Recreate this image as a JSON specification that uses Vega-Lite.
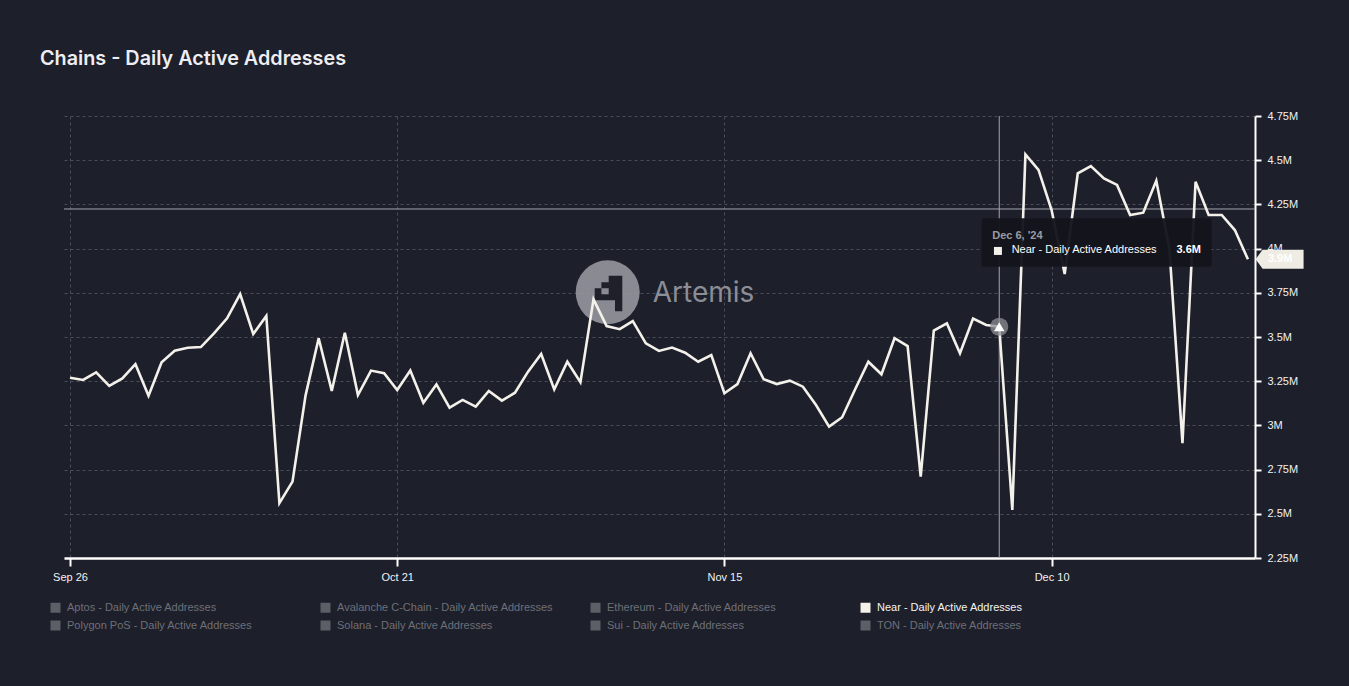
{
  "$schema": "https://vega.github.io/schema/vega-lite/v6.json",
  "width": 1191,
  "height": 442,
  "autosize": {"type": "none"},
  "padding": {"left": 64, "top": 116, "right": 94, "bottom": 128},
  "background": "#1d1f2a",
  "title": {"text": "Chains - Daily Active Addresses", "anchor": "start", "frame": "group", "dx": -24, "offset": 25, "baseline": "alphabetic", "font": "Inter", "fontSize": 19.8, "fontWeight": 600, "color": "#eeeef2"},
  "config": {
    "view": {"stroke": null},
    "axis": {"domainColor": "#ffffff", "tickColor": "#ffffff", "labelColor": "#f2f2f2", "labelFont": "Liberation Sans", "labelFontSize": 11, "gridColor": "#4a4c57", "gridDash": [3, 3], "gridWidth": 1}
  },
  "datasets": {
    "series": [
      {"date": "2024-09-26", "value": 3270000, "series": "Near - Daily Active Addresses"},
      {"date": "2024-09-27", "value": 3257000, "series": "Near - Daily Active Addresses"},
      {"date": "2024-09-28", "value": 3300000, "series": "Near - Daily Active Addresses"},
      {"date": "2024-09-29", "value": 3223000, "series": "Near - Daily Active Addresses"},
      {"date": "2024-09-30", "value": 3266000, "series": "Near - Daily Active Addresses"},
      {"date": "2024-10-01", "value": 3346000, "series": "Near - Daily Active Addresses"},
      {"date": "2024-10-02", "value": 3168000, "series": "Near - Daily Active Addresses"},
      {"date": "2024-10-03", "value": 3357000, "series": "Near - Daily Active Addresses"},
      {"date": "2024-10-04", "value": 3422000, "series": "Near - Daily Active Addresses"},
      {"date": "2024-10-05", "value": 3439000, "series": "Near - Daily Active Addresses"},
      {"date": "2024-10-06", "value": 3443000, "series": "Near - Daily Active Addresses"},
      {"date": "2024-10-07", "value": 3520000, "series": "Near - Daily Active Addresses"},
      {"date": "2024-10-08", "value": 3606000, "series": "Near - Daily Active Addresses"},
      {"date": "2024-10-09", "value": 3743000, "series": "Near - Daily Active Addresses"},
      {"date": "2024-10-10", "value": 3517000, "series": "Near - Daily Active Addresses"},
      {"date": "2024-10-11", "value": 3619000, "series": "Near - Daily Active Addresses"},
      {"date": "2024-10-12", "value": 2560000, "series": "Near - Daily Active Addresses"},
      {"date": "2024-10-13", "value": 2682000, "series": "Near - Daily Active Addresses"},
      {"date": "2024-10-14", "value": 3170000, "series": "Near - Daily Active Addresses"},
      {"date": "2024-10-15", "value": 3493000, "series": "Near - Daily Active Addresses"},
      {"date": "2024-10-16", "value": 3195000, "series": "Near - Daily Active Addresses"},
      {"date": "2024-10-17", "value": 3524000, "series": "Near - Daily Active Addresses"},
      {"date": "2024-10-18", "value": 3172000, "series": "Near - Daily Active Addresses"},
      {"date": "2024-10-19", "value": 3310000, "series": "Near - Daily Active Addresses"},
      {"date": "2024-10-20", "value": 3295000, "series": "Near - Daily Active Addresses"},
      {"date": "2024-10-21", "value": 3200000, "series": "Near - Daily Active Addresses"},
      {"date": "2024-10-22", "value": 3310000, "series": "Near - Daily Active Addresses"},
      {"date": "2024-10-23", "value": 3128000, "series": "Near - Daily Active Addresses"},
      {"date": "2024-10-24", "value": 3232000, "series": "Near - Daily Active Addresses"},
      {"date": "2024-10-25", "value": 3100000, "series": "Near - Daily Active Addresses"},
      {"date": "2024-10-26", "value": 3144000, "series": "Near - Daily Active Addresses"},
      {"date": "2024-10-27", "value": 3106000, "series": "Near - Daily Active Addresses"},
      {"date": "2024-10-28", "value": 3195000, "series": "Near - Daily Active Addresses"},
      {"date": "2024-10-29", "value": 3140000, "series": "Near - Daily Active Addresses"},
      {"date": "2024-10-30", "value": 3185000, "series": "Near - Daily Active Addresses"},
      {"date": "2024-10-31", "value": 3304000, "series": "Near - Daily Active Addresses"},
      {"date": "2024-11-01", "value": 3404000, "series": "Near - Daily Active Addresses"},
      {"date": "2024-11-02", "value": 3204000, "series": "Near - Daily Active Addresses"},
      {"date": "2024-11-03", "value": 3360000, "series": "Near - Daily Active Addresses"},
      {"date": "2024-11-04", "value": 3244000, "series": "Near - Daily Active Addresses"},
      {"date": "2024-11-05", "value": 3713000, "series": "Near - Daily Active Addresses"},
      {"date": "2024-11-06", "value": 3562000, "series": "Near - Daily Active Addresses"},
      {"date": "2024-11-07", "value": 3544000, "series": "Near - Daily Active Addresses"},
      {"date": "2024-11-08", "value": 3590000, "series": "Near - Daily Active Addresses"},
      {"date": "2024-11-09", "value": 3464000, "series": "Near - Daily Active Addresses"},
      {"date": "2024-11-10", "value": 3421000, "series": "Near - Daily Active Addresses"},
      {"date": "2024-11-11", "value": 3440000, "series": "Near - Daily Active Addresses"},
      {"date": "2024-11-12", "value": 3411000, "series": "Near - Daily Active Addresses"},
      {"date": "2024-11-13", "value": 3360000, "series": "Near - Daily Active Addresses"},
      {"date": "2024-11-14", "value": 3398000, "series": "Near - Daily Active Addresses"},
      {"date": "2024-11-15", "value": 3182000, "series": "Near - Daily Active Addresses"},
      {"date": "2024-11-16", "value": 3234000, "series": "Near - Daily Active Addresses"},
      {"date": "2024-11-17", "value": 3408000, "series": "Near - Daily Active Addresses"},
      {"date": "2024-11-18", "value": 3261000, "series": "Near - Daily Active Addresses"},
      {"date": "2024-11-19", "value": 3234000, "series": "Near - Daily Active Addresses"},
      {"date": "2024-11-20", "value": 3253000, "series": "Near - Daily Active Addresses"},
      {"date": "2024-11-21", "value": 3219000, "series": "Near - Daily Active Addresses"},
      {"date": "2024-11-22", "value": 3115000, "series": "Near - Daily Active Addresses"},
      {"date": "2024-11-23", "value": 2993000, "series": "Near - Daily Active Addresses"},
      {"date": "2024-11-24", "value": 3046000, "series": "Near - Daily Active Addresses"},
      {"date": "2024-11-25", "value": 3206000, "series": "Near - Daily Active Addresses"},
      {"date": "2024-11-26", "value": 3360000, "series": "Near - Daily Active Addresses"},
      {"date": "2024-11-27", "value": 3289000, "series": "Near - Daily Active Addresses"},
      {"date": "2024-11-28", "value": 3493000, "series": "Near - Daily Active Addresses"},
      {"date": "2024-11-29", "value": 3449000, "series": "Near - Daily Active Addresses"},
      {"date": "2024-11-30", "value": 2710000, "series": "Near - Daily Active Addresses"},
      {"date": "2024-12-01", "value": 3536000, "series": "Near - Daily Active Addresses"},
      {"date": "2024-12-02", "value": 3577000, "series": "Near - Daily Active Addresses"},
      {"date": "2024-12-03", "value": 3408000, "series": "Near - Daily Active Addresses"},
      {"date": "2024-12-04", "value": 3604000, "series": "Near - Daily Active Addresses"},
      {"date": "2024-12-05", "value": 3568000, "series": "Near - Daily Active Addresses"},
      {"date": "2024-12-06", "value": 3558000, "series": "Near - Daily Active Addresses"},
      {"date": "2024-12-07", "value": 2522000, "series": "Near - Daily Active Addresses"},
      {"date": "2024-12-08", "value": 4533000, "series": "Near - Daily Active Addresses"},
      {"date": "2024-12-09", "value": 4445000, "series": "Near - Daily Active Addresses"},
      {"date": "2024-12-10", "value": 4218000, "series": "Near - Daily Active Addresses"},
      {"date": "2024-12-11", "value": 3856000, "series": "Near - Daily Active Addresses"},
      {"date": "2024-12-12", "value": 4426000, "series": "Near - Daily Active Addresses"},
      {"date": "2024-12-13", "value": 4467000, "series": "Near - Daily Active Addresses"},
      {"date": "2024-12-14", "value": 4397000, "series": "Near - Daily Active Addresses"},
      {"date": "2024-12-15", "value": 4360000, "series": "Near - Daily Active Addresses"},
      {"date": "2024-12-16", "value": 4190000, "series": "Near - Daily Active Addresses"},
      {"date": "2024-12-17", "value": 4203000, "series": "Near - Daily Active Addresses"},
      {"date": "2024-12-18", "value": 4384000, "series": "Near - Daily Active Addresses"},
      {"date": "2024-12-19", "value": 4000000, "series": "Near - Daily Active Addresses"},
      {"date": "2024-12-20", "value": 2899000, "series": "Near - Daily Active Addresses"},
      {"date": "2024-12-21", "value": 4378000, "series": "Near - Daily Active Addresses"},
      {"date": "2024-12-22", "value": 4190000, "series": "Near - Daily Active Addresses"},
      {"date": "2024-12-23", "value": 4190000, "series": "Near - Daily Active Addresses"},
      {"date": "2024-12-24", "value": 4105000, "series": "Near - Daily Active Addresses"},
      {"date": "2024-12-25", "value": 3940000, "series": "Near - Daily Active Addresses"}
    ],
    "hover": [
      {"date": "2024-12-06", "value": 3558000, "heading": "Dec 6, '24", "series": "Near - Daily Active Addresses", "shown": "3.6M"}
    ],
    "cursor": [{"value": 4224000}],
    "last": [{"date": "2024-12-25", "value": 3940000, "shown": "3.9M"}],
    "brand": [{"name": "Artemis"}]
  },
  "layer": [
    {
      "data": {"name": "brand"},
      "mark": {"type": "point", "shape": "circle", "filled": true, "size": 4096, "color": "#9d9ea6", "opacity": 0.85, "strokeWidth": 0},
      "encoding": {
        "x": {"datum": {"year": 2024, "month": 11, "date": 6, "hours": 2, "utc": true}, "type": "temporal"},
        "y": {"datum": 3753000, "type": "quantitative"}
      }
    },
    {
      "data": {"name": "brand"},
      "mark": {"type": "point", "shape": "M1,-16.6H14.6V19H7.3V8H-13V-4H-6.3V-10H1ZM-6.3,-4V2H1V-4Z", "filled": true, "size": 4, "color": "#1f2029", "opacity": 1, "strokeWidth": 0},
      "encoding": {
        "x": {"datum": {"year": 2024, "month": 11, "date": 6, "hours": 2, "utc": true}, "type": "temporal"},
        "y": {"datum": 3753000, "type": "quantitative"}
      }
    },
    {
      "data": {"name": "brand"},
      "mark": {"type": "text", "align": "left", "baseline": "alphabetic", "dx": 45, "dy": 9.5, "font": "Inter", "fontSize": 28, "fontWeight": 400, "color": "#8b8d97"},
      "encoding": {
        "x": {"datum": {"year": 2024, "month": 11, "date": 6, "hours": 2, "utc": true}, "type": "temporal"},
        "y": {"datum": 3753000, "type": "quantitative"},
        "text": {"field": "name"}
      }
    },
    {
      "data": {"name": "cursor"},
      "mark": {"type": "rule", "color": "#a4a5ad", "strokeWidth": 1},
      "encoding": {"y": {"field": "value", "type": "quantitative"}}
    },
    {
      "data": {"name": "hover"},
      "mark": {"type": "rule", "color": "#a4a5ad", "strokeWidth": 1},
      "encoding": {"x": {"field": "date", "type": "temporal"}}
    },
    {
      "data": {"name": "series"},
      "mark": {"type": "line", "strokeWidth": 2.6, "strokeJoin": "miter"},
      "encoding": {
        "x": {
          "field": "date", "type": "temporal",
          "scale": {"type": "utc", "domain": [{"year": 2024, "month": 9, "date": 25, "hours": 13, "utc": true}, {"year": 2024, "month": 12, "date": 25, "hours": 13, "utc": true}]},
          "axis": {
            "title": null,
            "values": [{"year": 2024, "month": 9, "date": 26, "utc": true}, {"year": 2024, "month": 10, "date": 21, "utc": true}, {"year": 2024, "month": 11, "date": 15, "utc": true}, {"year": 2024, "month": 12, "date": 10, "utc": true}],
            "labelExpr": "utcFormat(datum.value, '%b %d')",
            "domainWidth": 2.5, "tickWidth": 2, "tickSize": 8, "labelPadding": 5, "grid": true, "labelFlush": false
          }
        },
        "y": {
          "field": "value", "type": "quantitative",
          "scale": {"domain": [2250000, 4750000], "nice": false, "zero": false},
          "axis": {
            "orient": "right", "title": null,
            "values": [2250000, 2500000, 2750000, 3000000, 3250000, 3500000, 3750000, 4000000, 4250000, 4500000, 4750000],
            "labelExpr": "format(datum.value / 1000000, '.2~f') + 'M'",
            "domainWidth": 2, "tickWidth": 2, "tickSize": 6, "labelPadding": 6, "grid": true
          }
        },
        "color": {
          "field": "series", "type": "nominal",
          "scale": {
            "domain": ["Aptos - Daily Active Addresses", "Avalanche C-Chain - Daily Active Addresses", "Ethereum - Daily Active Addresses", "Near - Daily Active Addresses", "Polygon PoS - Daily Active Addresses", "Solana - Daily Active Addresses", "Sui - Daily Active Addresses", "TON - Daily Active Addresses"],
            "range": ["#5d5f66", "#5d5f66", "#5d5f66", "#f3f1ea", "#5d5f66", "#5d5f66", "#5d5f66", "#5d5f66"]
          },
          "legend": {
            "title": null, "orient": "none", "legendX": -14, "legendY": 486, "columns": 4, "direction": "horizontal",
            "gridAlign": "all", "columnPadding": 36, "rowPadding": 6,
            "symbolType": "square", "symbolSize": 100, "symbolStrokeWidth": 0,
            "symbolFillColor": {"expr": "datum.label == 'Near - Daily Active Addresses' ? '#f3f1ea' : '#5d5f66'"},
            "labelFont": "Liberation Sans", "labelFontSize": 11, "labelOffset": 6, "labelLimit": 300, "labelBaseline": "middle",
            "labelColor": {"expr": "datum.label == 'Near - Daily Active Addresses' ? '#f4f4f4' : '#6e7078'"}
          }
        }
      }
    },
    {
      "data": {"name": "hover"},
      "mark": {"type": "point", "shape": "circle", "filled": true, "size": 330, "color": "#8e8f96", "opacity": 0.75, "strokeWidth": 0},
      "encoding": {"x": {"field": "date", "type": "temporal"}, "y": {"field": "value", "type": "quantitative"}}
    },
    {
      "data": {"name": "hover"},
      "mark": {"type": "point", "shape": "triangle-up", "filled": true, "size": 110, "color": "#ffffff", "opacity": 1, "strokeWidth": 0},
      "encoding": {"x": {"field": "date", "type": "temporal"}, "y": {"field": "value", "type": "quantitative"}}
    },
    {
      "data": {"name": "hover"},
      "mark": {"type": "rect", "color": "#14151c", "opacity": 0.96, "cornerRadius": 2, "xOffset": -17.6, "x2Offset": 212.4, "yOffset": -108.5, "y2Offset": -60.1},
      "encoding": {
        "x": {"field": "date", "type": "temporal"}, "x2": {"field": "date"},
        "y": {"field": "value", "type": "quantitative"}, "y2": {"field": "value"}
      }
    },
    {
      "data": {"name": "hover"},
      "mark": {"type": "text", "align": "left", "baseline": "alphabetic", "dx": -7, "dy": -87.5, "font": "Liberation Sans", "fontSize": 11, "fontWeight": "bold", "color": "#9a9ba2"},
      "encoding": {"x": {"field": "date", "type": "temporal"}, "y": {"field": "value", "type": "quantitative"}, "text": {"field": "heading"}}
    },
    {
      "data": {"name": "hover"},
      "mark": {"type": "point", "shape": "square", "filled": true, "size": 64, "color": "#f3f1ea", "opacity": 1, "strokeWidth": 0, "xOffset": -1.3, "yOffset": -75.8},
      "encoding": {"x": {"field": "date", "type": "temporal"}, "y": {"field": "value", "type": "quantitative"}}
    },
    {
      "data": {"name": "hover"},
      "mark": {"type": "text", "align": "left", "baseline": "alphabetic", "dx": 12.4, "dy": -73.5, "font": "Liberation Sans", "fontSize": 11, "color": "#ffffff"},
      "encoding": {"x": {"field": "date", "type": "temporal"}, "y": {"field": "value", "type": "quantitative"}, "text": {"field": "series"}}
    },
    {
      "data": {"name": "hover"},
      "mark": {"type": "text", "align": "right", "baseline": "alphabetic", "dx": 201.7, "dy": -73.5, "font": "Liberation Sans", "fontSize": 11, "fontWeight": "bold", "color": "#ffffff"},
      "encoding": {"x": {"field": "date", "type": "temporal"}, "y": {"field": "value", "type": "quantitative"}, "text": {"field": "shown"}}
    },
    {
      "data": {"name": "last"},
      "mark": {"type": "point", "shape": "M0.81,0L1.55,-1L5.86,-1L5.86,1L1.55,1Z", "filled": true, "size": 361, "color": "#efece3", "opacity": 1, "strokeWidth": 0},
      "encoding": {"x": {"field": "date", "type": "temporal"}, "y": {"field": "value", "type": "quantitative"}}
    },
    {
      "data": {"name": "last"},
      "mark": {"type": "text", "align": "left", "baseline": "middle", "dx": 20, "font": "Liberation Sans", "fontSize": 11, "fontWeight": "bold", "color": "#ffffff"},
      "encoding": {"x": {"field": "date", "type": "temporal"}, "y": {"field": "value", "type": "quantitative"}, "text": {"field": "shown"}}
    }
  ]
}
